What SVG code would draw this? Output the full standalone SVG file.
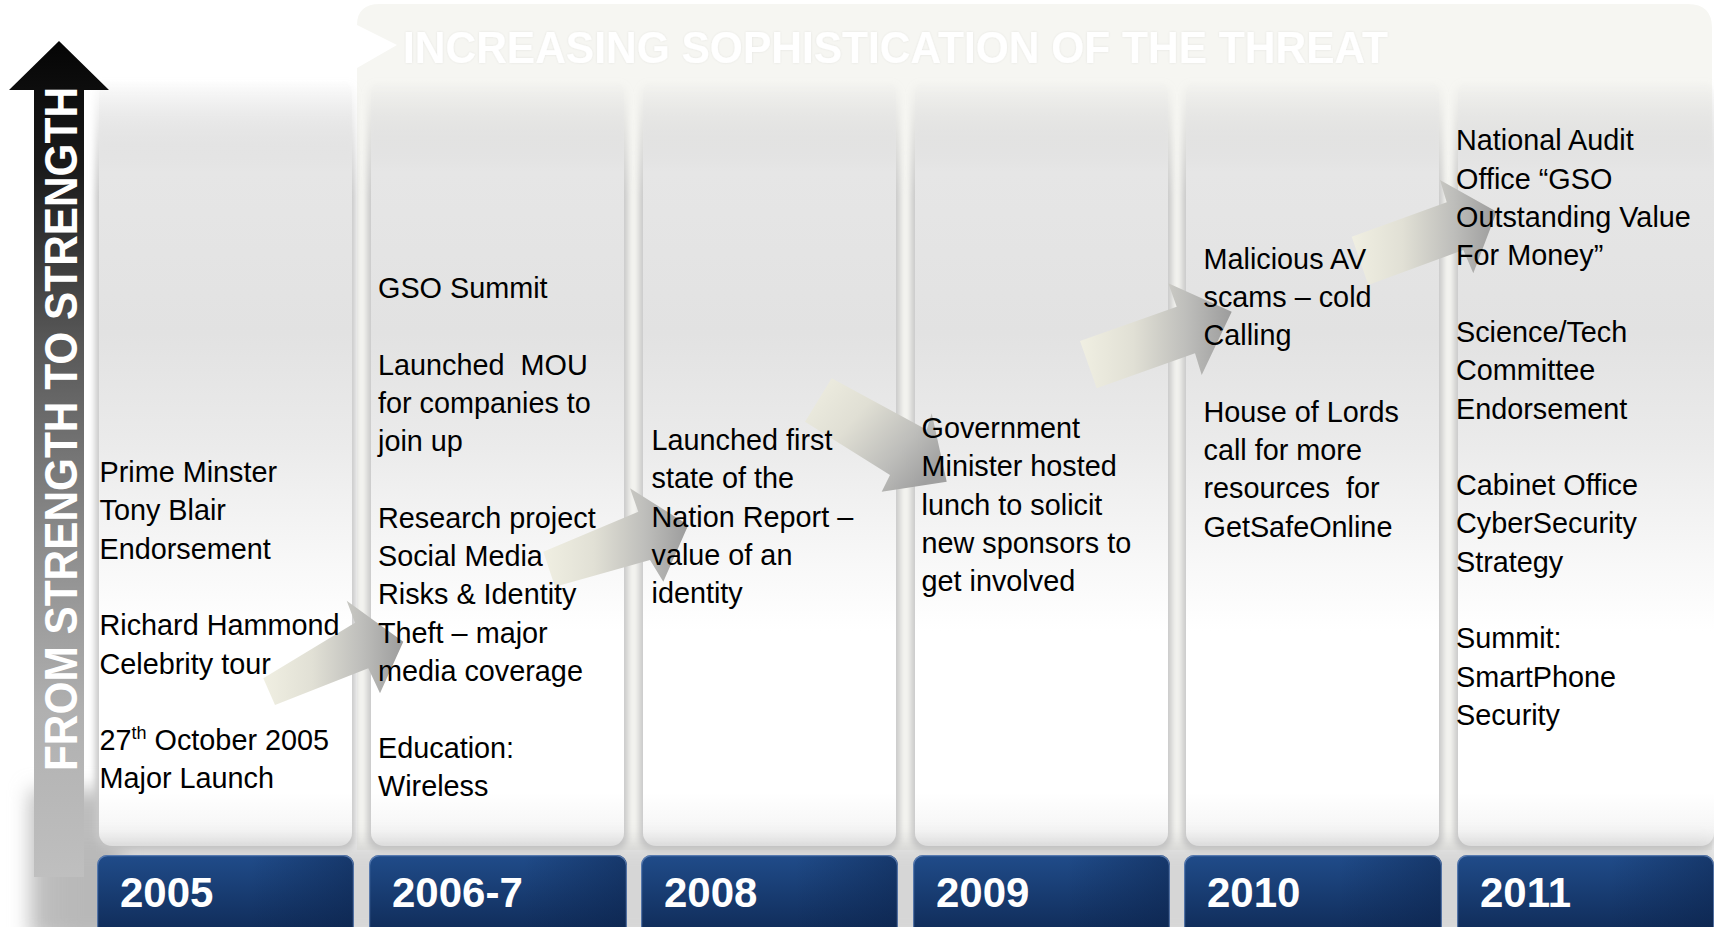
<svg xmlns="http://www.w3.org/2000/svg" width="1714" height="927" viewBox="0 0 1714 927">
  <style>
    .t { font-family: "Liberation Sans", Arial, sans-serif; font-size: 28.8px; fill: #000; }
    .yr { font-family: "Liberation Sans", Arial, sans-serif; font-size: 42px; font-weight: bold; fill: #fff; }
    .title { font-family: "Liberation Sans", Arial, sans-serif; font-size: 44px; font-weight: bold; fill: #fff; }
    .side { font-family: "Liberation Sans", Arial, sans-serif; font-size: 46px; font-weight: bold; fill: #fff; }
    .panel { fill: url(#gPanel); }
    .shade { fill: url(#gShade); filter: url(#fBlur3); }
    .box { fill: url(#gBox); }
    .boxDark { fill: url(#gBoxSide); }
    .boxHi { fill: none; stroke: #6f8fc0; stroke-width: 1.2; stroke-opacity: 0.7; }
    .flow { fill: url(#gFlow); }
  </style>
  <defs>
    <linearGradient id="gPanel" x1="0" y1="0" x2="0" y2="1">
      <stop offset="0" stop-color="#e6e6e6" stop-opacity="0"/>
      <stop offset="0.12" stop-color="#e6e6e6"/>
      <stop offset="0.33" stop-color="#e2e2e2"/>
      <stop offset="0.48" stop-color="#ebebeb"/>
      <stop offset="0.62" stop-color="#f7f7f7"/>
      <stop offset="0.72" stop-color="#ffffff"/>
      <stop offset="0.93" stop-color="#ffffff"/>
      <stop offset="1" stop-color="#f2f2f2"/>
    </linearGradient>
    <linearGradient id="gShade" x1="0" y1="0" x2="0" y2="1">
      <stop offset="0" stop-color="#c4c4c4" stop-opacity="0"/>
      <stop offset="0.15" stop-color="#c8c8c8"/>
      <stop offset="1" stop-color="#c8c8c8"/>
    </linearGradient>
    <linearGradient id="gBox" x1="0" y1="0" x2="0" y2="1">
      <stop offset="0" stop-color="#204c8a"/>
      <stop offset="0.8" stop-color="#112e5c"/>
      <stop offset="1" stop-color="#0e2850"/>
    </linearGradient>
    <linearGradient id="gBoxSide" x1="0" y1="0" x2="1" y2="0">
      <stop offset="0" stop-color="#0b2148" stop-opacity="0"/>
      <stop offset="0.6" stop-color="#0b2148" stop-opacity="0"/>
      <stop offset="1" stop-color="#0b2148" stop-opacity="0.45"/>
    </linearGradient>
    <linearGradient id="gUp" gradientUnits="userSpaceOnUse" x1="0" y1="41" x2="0" y2="877">
      <stop offset="0" stop-color="#050505"/>
      <stop offset="0.15" stop-color="#1a1a1a"/>
      <stop offset="0.35" stop-color="#555555"/>
      <stop offset="0.6" stop-color="#8c8c8c"/>
      <stop offset="0.8" stop-color="#b0b0b0"/>
      <stop offset="1" stop-color="#bfbfbf"/>
    </linearGradient>
    <linearGradient id="gFlow" x1="0" y1="0" x2="1" y2="0">
      <stop offset="0" stop-color="#f0efe2"/>
      <stop offset="0.35" stop-color="#e1e0d5"/>
      <stop offset="0.7" stop-color="#bebebb"/>
      <stop offset="1" stop-color="#9c9c9c"/>
    </linearGradient>
    <linearGradient id="gFlowDown" x1="0" y1="0" x2="1" y2="0.7">
      <stop offset="0" stop-color="#f0efe2"/>
      <stop offset="0.4" stop-color="#e0dfd4"/>
      <stop offset="0.75" stop-color="#bdbdba"/>
      <stop offset="1" stop-color="#a0a0a0"/>
    </linearGradient>
    <filter id="fBlur3" x="-10%" y="-10%" width="120%" height="120%">
      <feGaussianBlur stdDeviation="3"/>
    </filter>
    <filter id="fBlur10" x="-30%" y="-30%" width="160%" height="160%">
      <feGaussianBlur stdDeviation="10"/>
    </filter>
    <filter id="fGlow" x="-5%" y="-20%" width="110%" height="140%">
      <feDropShadow dx="0" dy="0" stdDeviation="1.2" flood-color="#000" flood-opacity="0.08"/>
    </filter>
  </defs>

  <rect width="1714" height="927" fill="#ffffff"/>

  <!-- banner with notched left end -->
  <g id="banner">
    <path d="M380,4 H1688 Q1712,4 1712,28 V850 H357 V68 L397,45 L357,25 Q357,4 380,4 Z" fill="#f6f6f2"/>
    <text class="title" x="403" y="63.3" textLength="985" lengthAdjust="spacingAndGlyphs" filter="url(#fGlow)">INCREASING SOPHISTICATION OF THE THREAT</text>
  </g>

  <!-- soft shadows and column panels -->
  <g id="panels">
    <rect x="30" y="790" width="90" height="150" fill="#bdbdbd" filter="url(#fBlur10)"/>
    <rect class="shade" x="95" y="80" width="261" height="770" rx="14"/>
    <rect class="shade" x="367" y="80" width="261" height="770" rx="14"/>
    <rect class="shade" x="639" y="80" width="261" height="770" rx="14"/>
    <rect class="shade" x="911" y="80" width="261" height="770" rx="14"/>
    <rect class="shade" x="1182" y="80" width="261" height="770" rx="14"/>
    <rect class="shade" x="1454" y="80" width="261" height="770" rx="14"/>
    <rect class="panel" x="99" y="80" width="253" height="766" rx="13"/>
    <rect class="panel" x="371" y="80" width="253" height="766" rx="13"/>
    <rect class="panel" x="643" y="80" width="253" height="766" rx="13"/>
    <rect class="panel" x="915" y="80" width="253" height="766" rx="13"/>
    <rect class="panel" x="1186" y="80" width="253" height="766" rx="13"/>
    <rect class="panel" x="1458" y="80" width="256" height="766" rx="13"/>
    <rect x="60" y="842" width="1660" height="100" fill="#b5b5b5" opacity="0.55" filter="url(#fBlur10)"/>
  </g>

  <!-- vertical progress arrow -->
  <g id="strength-arrow">
    <polygon points="59,41 109,90 84,90 84,877 34,877 34,90 9,90" fill="url(#gUp)"/>
    <text class="side" transform="translate(77,429) rotate(-90)" text-anchor="middle" textLength="684" lengthAdjust="spacingAndGlyphs">FROM STRENGTH TO STRENGTH</text>
  </g>

  <!-- block arrows between years -->
  <g id="connectors">
    <polygon class="flow" points="263.3,678.3 355,622.7 346.7,600.7 403.3,641.7 380,693.3 368.3,668.3 275,705"/>
    <polygon class="flow" points="543.3,551.7 638.3,511.7 630,488.3 688.3,525 663.3,581.7 650,560 555,586.7"/>
    <polygon fill="url(#gFlowDown)" points="831.7,378.3 926.7,429.7 931.7,413.3 946.7,481.7 881.7,491.7 890,475 805,421.7"/>
    <polygon class="flow" points="1080,341 1176.7,306.7 1168.3,283.3 1231.7,311.7 1201.7,375 1195,353.3 1096.7,388.3"/>
    <polygon class="flow" points="1351.7,236.7 1446.7,202.3 1440,180 1496.7,211.7 1473.3,273.3 1463.3,250 1368.3,285"/>
  </g>

  <g id="y2005">
    <text class="t">
      <tspan x="99.5" y="482">Prime Minster</tspan>
      <tspan x="99.5" y="520.3">Tony Blair</tspan>
      <tspan x="99.5" y="558.6">Endorsement</tspan>
      <tspan x="99.5" y="635.2">Richard Hammond</tspan>
      <tspan x="99.5" y="673.5">Celebrity tour</tspan>
      <tspan x="99.5" y="750.1">27<tspan font-size="18" dy="-11">th</tspan><tspan dy="11"> October 2005</tspan></tspan>
      <tspan x="99.5" y="788.4">Major Launch</tspan>
    </text>
    <rect class="box" x="97" y="855" width="257" height="90" rx="10"/>
    <rect class="boxDark" x="97" y="855" width="257" height="90" rx="10"/>
    <rect class="boxHi" x="97.6" y="855.6" width="255.8" height="90" rx="10"/>
    <text class="yr" x="120" y="907">2005</text>
  </g>

  <g id="y2006-7">
    <text class="t" xml:space="preserve"><tspan x="378" y="298">GSO Summit</tspan><tspan x="378" y="374.6">Launched  MOU</tspan><tspan x="378" y="412.9">for companies to</tspan><tspan x="378" y="451.2">join up</tspan><tspan x="378" y="527.8">Research project</tspan><tspan x="378" y="566.1">Social Media</tspan><tspan x="378" y="604.4">Risks &amp; Identity</tspan><tspan x="378" y="642.7">Theft – major</tspan><tspan x="378" y="681">media coverage</tspan><tspan x="378" y="757.6">Education:</tspan><tspan x="378" y="795.9">Wireless</tspan></text>
    <rect class="box" x="369" y="855" width="258" height="90" rx="10"/>
    <rect class="boxDark" x="369" y="855" width="258" height="90" rx="10"/>
    <rect class="boxHi" x="369.6" y="855.6" width="256.8" height="90" rx="10"/>
    <text class="yr" x="392" y="907">2006-7</text>
  </g>

  <g id="y2008">
    <text class="t">
      <tspan x="651.5" y="450">Launched first</tspan>
      <tspan x="651.5" y="488.3">state of the</tspan>
      <tspan x="651.5" y="526.6">Nation Report –</tspan>
      <tspan x="651.5" y="564.9">value of an</tspan>
      <tspan x="651.5" y="603.2">identity</tspan>
    </text>
    <rect class="box" x="641" y="855" width="257" height="90" rx="10"/>
    <rect class="boxDark" x="641" y="855" width="257" height="90" rx="10"/>
    <rect class="boxHi" x="641.6" y="855.6" width="255.8" height="90" rx="10"/>
    <text class="yr" x="664" y="907">2008</text>
  </g>

  <g id="y2009">
    <text class="t">
      <tspan x="921.5" y="438">Government</tspan>
      <tspan x="921.5" y="476.3">Minister hosted</tspan>
      <tspan x="921.5" y="514.6">lunch to solicit</tspan>
      <tspan x="921.5" y="552.9">new sponsors to</tspan>
      <tspan x="921.5" y="591.2">get involved</tspan>
    </text>
    <rect class="box" x="913" y="855" width="257" height="90" rx="10"/>
    <rect class="boxDark" x="913" y="855" width="257" height="90" rx="10"/>
    <rect class="boxHi" x="913.6" y="855.6" width="255.8" height="90" rx="10"/>
    <text class="yr" x="936" y="907">2009</text>
  </g>

  <g id="y2010">
    <text class="t" xml:space="preserve"><tspan x="1203.5" y="268.5">Malicious AV</tspan><tspan x="1203.5" y="306.8">scams – cold</tspan><tspan x="1203.5" y="345.1">Calling</tspan><tspan x="1203.5" y="421.7">House of Lords</tspan><tspan x="1203.5" y="460">call for more</tspan><tspan x="1203.5" y="498.3">resources  for</tspan><tspan x="1203.5" y="536.6">GetSafeOnline</tspan></text>
    <rect class="box" x="1184" y="855" width="258" height="90" rx="10"/>
    <rect class="boxDark" x="1184" y="855" width="258" height="90" rx="10"/>
    <rect class="boxHi" x="1184.6" y="855.6" width="256.8" height="90" rx="10"/>
    <text class="yr" x="1207" y="907">2010</text>
  </g>

  <g id="y2011">
    <text class="t">
      <tspan x="1456" y="150.4">National Audit</tspan>
      <tspan x="1456" y="188.7">Office “GSO</tspan>
      <tspan x="1456" y="227">Outstanding Value</tspan>
      <tspan x="1456" y="265.3">For Money”</tspan>
      <tspan x="1456" y="341.9">Science/Tech</tspan>
      <tspan x="1456" y="380.2">Committee</tspan>
      <tspan x="1456" y="418.5">Endorsement</tspan>
      <tspan x="1456" y="495.1">Cabinet Office</tspan>
      <tspan x="1456" y="533.4">CyberSecurity</tspan>
      <tspan x="1456" y="571.7">Strategy</tspan>
      <tspan x="1456" y="648.3">Summit:</tspan>
      <tspan x="1456" y="686.6">SmartPhone</tspan>
      <tspan x="1456" y="724.9">Security</tspan>
    </text>
    <rect class="box" x="1457" y="855" width="257" height="90" rx="10"/>
    <rect class="boxDark" x="1457" y="855" width="257" height="90" rx="10"/>
    <rect class="boxHi" x="1457.6" y="855.6" width="256" height="90" rx="10"/>
    <text class="yr" x="1480" y="907">2011</text>
  </g>
</svg>
